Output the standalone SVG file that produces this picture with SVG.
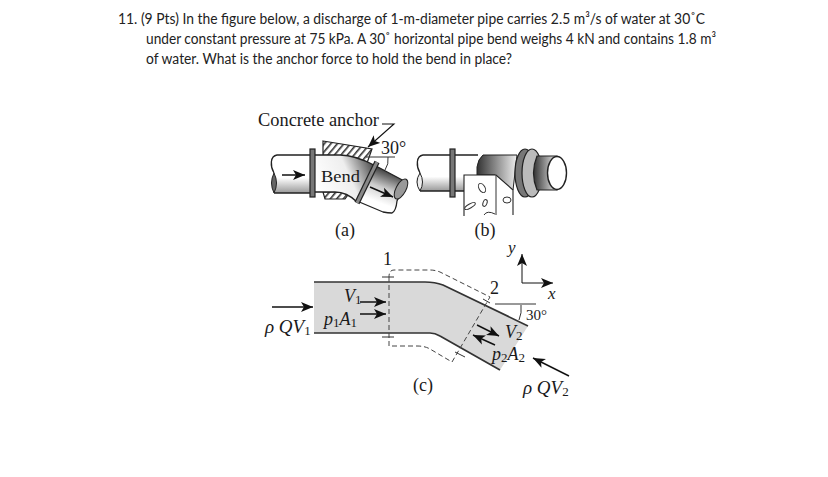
<svg xmlns="http://www.w3.org/2000/svg" width="828" height="477" viewBox="0 0 828 477">
<style>
.q{font-family:Lato,"Open Sans","Liberation Sans",sans-serif;font-size:14.6px;fill:#222}
.t{font-family:"Liberation Serif",serif;fill:#1a1a1a;font-size:18px}
.i{font-style:italic}
.s{font-size:13px;font-style:normal}
.l{fill:none;stroke:#222;stroke-width:1.3}
.th{fill:none;stroke:#333;stroke-width:1}
.k{fill:none;stroke:#333;stroke-width:1.7}
.d{fill:none;stroke:#444;stroke-width:1;stroke-dasharray:5 3}
.a{fill:none;stroke:#111;stroke-width:1.5;marker-end:url(#h)}
.f{fill:#777;stroke:#222;stroke-width:1.2}
.b{fill:#fff;stroke:#333;stroke-width:1}
</style>
<defs>
<marker id="h" markerUnits="userSpaceOnUse" markerWidth="13" markerHeight="11" refX="12" refY="5.5" orient="auto"><path d="M0 0.5L12 5.5L0 10.5L3 5.5Z" fill="#111"/></marker>
<linearGradient id="g" x1="0" y1="0" x2="0" y2="1"><stop offset="0" stop-color="#fff"/><stop offset=".6" stop-color="#fff"/><stop offset="1" stop-color="#999"/></linearGradient>
<linearGradient id="g2" x1="0" y1="0" x2="1" y2="0"><stop offset="0" stop-color="#333"/><stop offset="1" stop-color="#eee"/></linearGradient>
<linearGradient id="g3" gradientUnits="userSpaceOnUse" x1="318" y1="190" x2="375" y2="165"><stop offset="0" stop-color="#fff"/><stop offset=".55" stop-color="#eee"/><stop offset="1" stop-color="#444"/></linearGradient>
<linearGradient id="g4" gradientUnits="userSpaceOnUse" x1="384" y1="168" x2="372" y2="200"><stop offset="0" stop-color="#333"/><stop offset=".55" stop-color="#ccc"/><stop offset="1" stop-color="#fff"/></linearGradient>
<pattern id="x" width="5" height="5" patternUnits="userSpaceOnUse" patternTransform="rotate(40)"><rect width="5" height="5" fill="#fff"/><rect width="1.6" height="5" fill="#333"/></pattern>
</defs>
<rect width="828" height="477" fill="#fff"/>

<g id="question">
<text class="q" x="118" y="24" textLength="587" lengthAdjust="spacingAndGlyphs">11. (9 Pts) In the figure below, a discharge of 1-m-diameter pipe carries 2.5 m³/s of water at 30˚C</text>
<text class="q" x="146" y="44" textLength="570" lengthAdjust="spacingAndGlyphs">under constant pressure at 75 kPa. A 30˚ horizontal pipe bend weighs 4 kN and contains 1.8 m³</text>
<text class="q" x="146" y="64" textLength="366" lengthAdjust="spacingAndGlyphs">of water. What is the anchor force to hold the bend in place?</text>
</g>

<g id="panel-a">
<path d="M323 141L372 149L367 163L352 160Q335 155 323 155Z" fill="url(#x)" stroke="#222" stroke-width="1.2"/>
<path d="M323 192L350 192L345 199L325 199Z" fill="url(#x)" stroke="#222" stroke-width="1.2"/>
<path d="M314 155H276C270 157 270 167 274 173L274 193H314Z" fill="url(#g)" stroke="none"/>
<path d="M314 155H277C270 156 270 166 274 173M274 193H314" class="l"/>
<path d="M274 173Q269 183 274 193Q279 183 274 173Z" fill="#666" stroke="#222"/>
<path d="M314 155H340Q355 155 376 166L367 183L357 202Q347 192 335 192H314Z" fill="url(#g3)" stroke="#222" stroke-width="1.3"/>
<path d="M376 166L406 182L397 201Q396 211 392 213Q388 213 383 212L357 201Z" fill="url(#g4)" stroke="#222" stroke-width="1.3"/>
<ellipse cx="401" cy="189" rx="5" ry="11" transform="rotate(28 401 189)" fill="#999" stroke="#222"/>
<rect x="310" y="149" width="5" height="48" class="f"/>
<path d="M377 162L357 203" stroke="#222" stroke-width="5.5"/>
<path d="M377 162L357 203" stroke="#888" stroke-width="3"/>
<path d="M282 175H305" class="a"/>
<path d="M370 187L393 197" class="a"/>
<text class="t" x="321" y="182" style="font-size:16.5px" textLength="39" lengthAdjust="spacingAndGlyphs">Bend</text>
<text class="t" x="258" y="126" textLength="121" lengthAdjust="spacingAndGlyphs">Concrete anchor</text>
<path d="M382 124H394L368 147" class="a" style="stroke-width:1.1"/>
<text class="t" x="381" y="154">30°</text>
<path d="M366 157H395M388 157Q389 164 385 170" class="th"/>
<text class="t" x="345" y="236" text-anchor="middle">(a)</text>
</g>

<g id="panel-b">
<path d="M423 155H478V191H420C414 180 414 166 423 155Z" fill="url(#g)" stroke="none"/>
<path d="M478 155H423C416 156 416 166 420 173M420 191H465" class="l"/>
<path d="M420 173Q414 182 420 191Q425 182 420 173Z" fill="#eee" stroke="#222"/>
<path d="M483 155H517L513 190L506 186L495 175H477V167Q478 159 483 155Z" fill="url(#g2)" stroke="#222" stroke-width="1"/>
<path d="M464 216V175H496L513 190V215" fill="#fff" stroke="#222" stroke-width="1.1"/>
<path d="M496 175V215" class="th"/>
<ellipse cx="482" cy="188" rx="3" ry="5" transform="rotate(-30 482 188)" class="b"/>
<ellipse cx="485" cy="203" rx="2" ry="3.5" transform="rotate(20 485 203)" class="b"/>
<ellipse cx="470" cy="206" rx="2" ry="6" transform="rotate(60 470 206)" class="b"/>
<ellipse cx="507" cy="200" rx="4" ry="3" class="b"/>
<path d="M484 215Q487 210 495 214" class="th"/>
<ellipse cx="525" cy="173" rx="10" ry="24" fill="#777" stroke="#222" stroke-width="1.2"/>
<ellipse cx="532" cy="173" rx="10" ry="24" fill="#bbb" stroke="#222" stroke-width="1.2"/>
<path d="M537 156H557V190H537Q530 173 537 156Z" fill="url(#g2)" stroke="#222" stroke-width="1.2"/>
<ellipse cx="557" cy="173" rx="9.5" ry="16.5" fill="#fff" stroke="#222" stroke-width="1.4"/>
<rect x="450" y="149" width="5" height="48" class="f"/>
<text class="t" x="485" y="236" text-anchor="middle">(b)</text>
</g>

<g id="panel-c">
<path d="M314 282H425Q435 282 443 285L528 326L500 370L440 336Q435 333 430 333H314Z" fill="#d9d9d9"/>
<path d="M314 282H425Q435 282 443 285L528 326M314 333H430Q435 333 440 336L500 370" class="k"/>
<path d="M389 277V346H417Q425 346 430 349L452 362L490 297L440 272Q435 270 430 270H394Q389 270 389 277" class="d"/>
<path d="M382 277H394M382 337H394M483 299L490 303M455 352L465 357M495 304H536M521 305Q522 313 519 320" class="th"/>
<path d="M360 302H386" class="a"/>
<path d="M360 314H386" class="a"/>
<path d="M272 307H313" class="a"/>
<path d="M477 325L499 336" class="a"/>
<path d="M495 345L473 335" class="a"/>
<path d="M569 376L533 358" class="a"/>
<path d="M522 283V254" class="a" style="stroke-width:1"/>
<path d="M522 283H553" class="a" style="stroke-width:1"/>
<text class="t" x="383" y="265">1</text>
<text class="t" x="490" y="294">2</text>
<text class="t i" x="344" y="302">V<tspan class="s" dy="2">1</tspan></text>
<text class="t i" x="324" y="325">p<tspan class="s" dy="2">1</tspan><tspan dy="-2">A</tspan><tspan class="s" dy="2">1</tspan></text>
<text class="t i" x="265" y="333" style="font-size:19px">ρ QV<tspan class="s" dy="2">1</tspan></text>
<text class="t" x="526" y="320" style="font-size:15px">30°</text>
<text class="t i" x="505" y="338">V<tspan class="s" dy="2">2</tspan></text>
<text class="t i" x="492" y="360">p<tspan class="s" dy="2">2</tspan><tspan dy="-2">A</tspan><tspan class="s" dy="2">2</tspan></text>
<text class="t i" x="523" y="394" style="font-size:19px">ρ QV<tspan class="s" dy="2">2</tspan></text>
<text class="t i" x="508" y="253" style="font-size:17px">y</text>
<text class="t i" x="548" y="299" style="font-size:17px">x</text>
<text class="t" x="423" y="391" text-anchor="middle">(c)</text>
</g>
</svg>
